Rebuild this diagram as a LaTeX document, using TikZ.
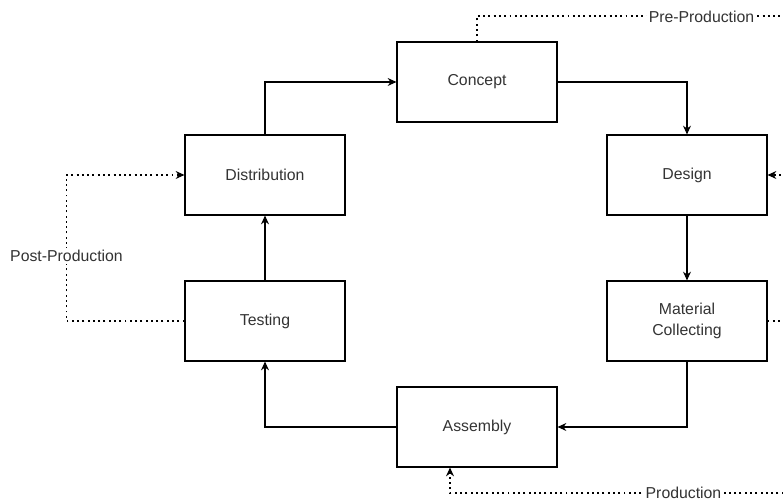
\documentclass[tikz,border=0pt]{standalone}
\usepackage{fontspec}
\setmainfont{Liberation Sans}
\usetikzlibrary{arrows.meta}
\definecolor{labelgray}{HTML}{333333}
\begin{document}
\begin{tikzpicture}[
    stage/.style={draw, line width=0.6pt, minimum width=3.2cm, minimum height=1.6cm,
      align=center, text=labelgray, font=\fontsize{9}{12}\selectfont},
    flow/.style={line width=0.6pt, -{Stealth[length=5pt,width=4.5pt]}},
    phase/.style={line width=0.6pt, dash pattern=on 1.1pt off 1.9pt, -{Stealth[length=5pt,width=4.5pt]}},
    phaselabel/.style={fill=white, inner sep=1pt, text=labelgray, font=\fontsize{9}{11}\selectfont}
  ]
  \useasboundingbox (0,0) rectangle (15.66,10);
  \clip (0,0) rectangle (15.66,10);

  % production cycle
  \node[stage] (concept) at (9.54,8.36) {Concept};
  \node[stage] (design) at (13.74,6.5) {Design};
  \node[stage] (material) at (13.74,3.58) {Material\\Collecting};
  \node[stage] (assembly) at (9.54,1.46) {Assembly};
  \node[stage] (testing) at (5.3,3.58) {Testing};
  \node[stage] (distribution) at (5.3,6.5) {Distribution};

  \draw[flow] (distribution.north) |- (concept.west);
  \draw[flow] (concept.east) -| (design.north);
  \draw[flow] (design.south) -- (material.north);
  \draw[flow] (material.south) |- (assembly.east);
  \draw[flow] (assembly.west) -| (testing.south);
  \draw[flow] (testing.north) -- (distribution.south);

  % phases
  \coordinate (preturn) at (15.9,9.68);
  \coordinate (prodturn) at (15.9,0.14);
  \coordinate (postturn) at (1.33,3.58);

  \draw[phase] (concept.north) |- (preturn) |- (design.east);
  \draw[phase] (material.east) -| (prodturn) -| ([xshift=-0.54cm]assembly.south);
  \draw[phase] (testing.west) -- (postturn) |- (distribution.west);

  \node[phaselabel] (prelabel) at (14.03,9.67) {Pre-Production};
  \node[phaselabel] (prodlabel) at (13.67,0.15) {Production};
  \node[phaselabel] (postlabel) at (1.33,4.88) {Post-Production};
\end{tikzpicture}
\end{document}
